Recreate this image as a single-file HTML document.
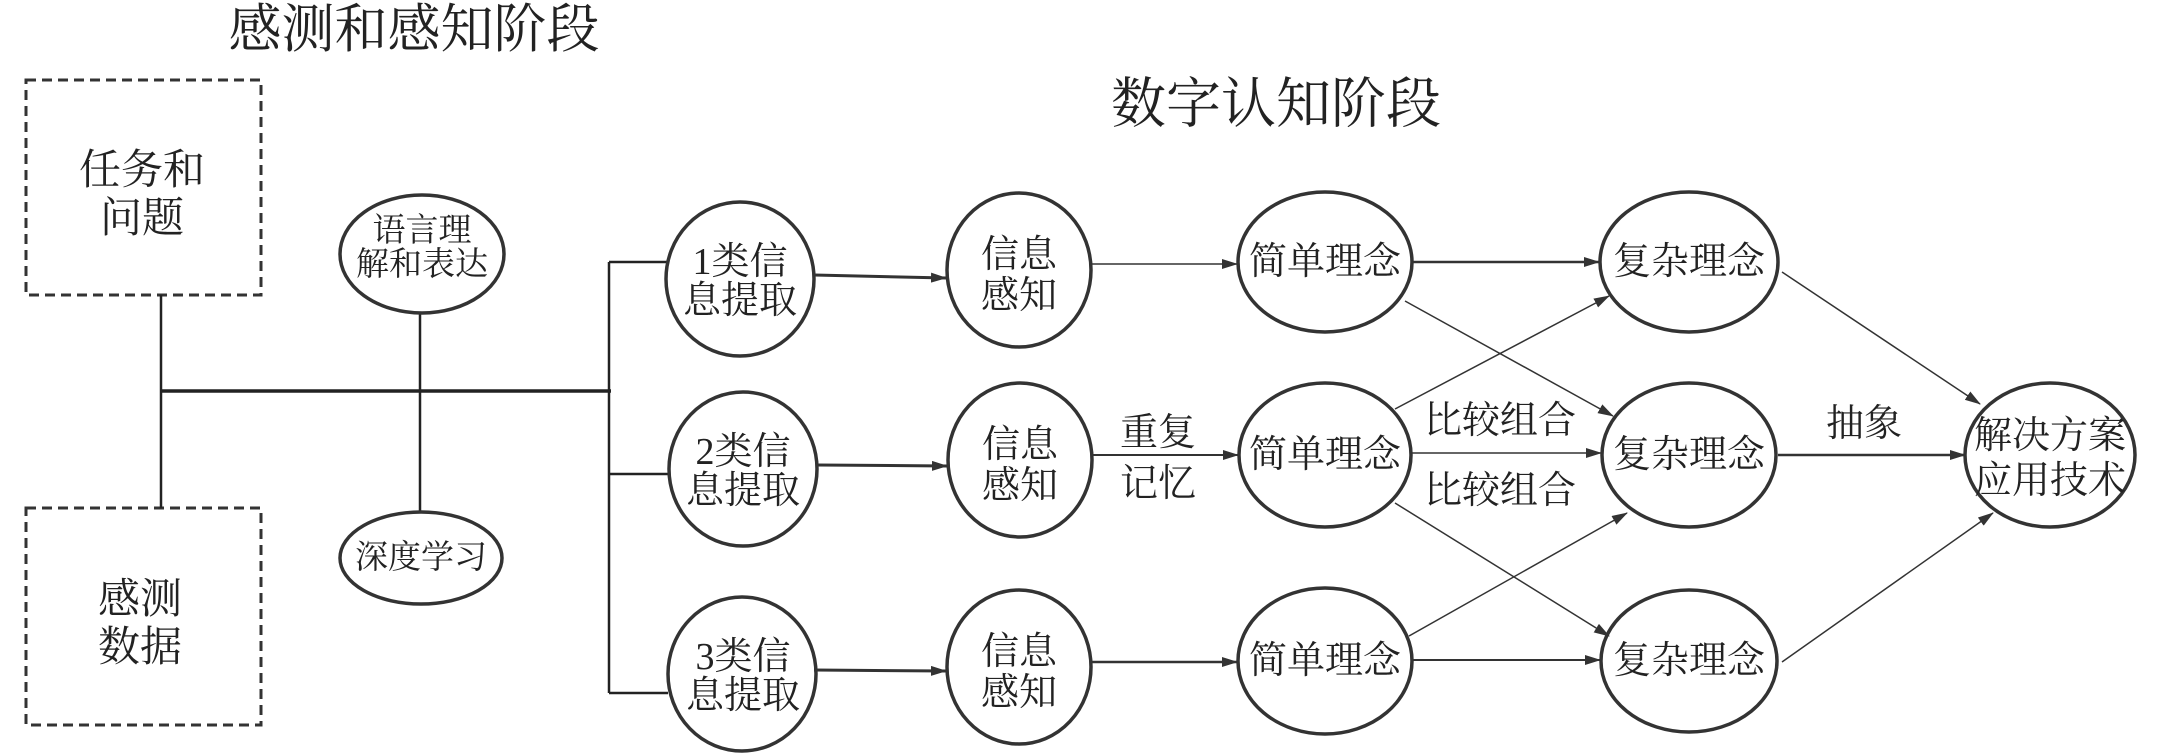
<!DOCTYPE html>
<html><head><meta charset="utf-8"><style>
html,body{margin:0;padding:0;background:#fff;width:2165px;height:755px;overflow:hidden}
svg{display:block}
text{font-family:"Liberation Serif","Noto Serif CJK SC",serif;fill:#222;text-anchor:middle;dominant-baseline:central}
</style></head><body>
<svg width="2165" height="755" viewBox="0 0 2165 755" xmlns="http://www.w3.org/2000/svg">
<defs>
<marker id="a" markerWidth="16" markerHeight="10" refX="15" refY="5" orient="auto" markerUnits="userSpaceOnUse">
<path d="M0,0 L16,5 L0,10 Z" fill="#333"/></marker>
</defs>
<text x="414" y="30" font-size="53">感测和感知阶段</text>
<text x="1276" y="104" font-size="55">数字认知阶段</text>

<g fill="none" stroke="#333" stroke-width="3" stroke-dasharray="10 6">
<rect x="26" y="80" width="235" height="215"/>
<rect x="26" y="508" width="235" height="217"/>
</g>
<text x="142" y="171" font-size="42">任务和</text>
<text x="142" y="219" font-size="42">问题</text>
<text x="140" y="600" font-size="42">感测</text>
<text x="140" y="648" font-size="42">数据</text>

<g stroke="#222" fill="none">
<line x1="161" y1="295" x2="161" y2="508" stroke-width="2.5"/>
<line x1="161" y1="391" x2="611" y2="391" stroke-width="3.5"/>
<line x1="420" y1="313" x2="420" y2="513" stroke-width="2.5"/>
<line x1="609" y1="262" x2="609" y2="693" stroke-width="2.5"/>
<line x1="609" y1="262" x2="668" y2="262" stroke-width="2.5"/>
<line x1="609" y1="474" x2="670" y2="474" stroke-width="2.5"/>
<line x1="609" y1="693" x2="668" y2="693" stroke-width="2.5"/>
</g>

<g fill="none" stroke="#333" stroke-width="3.5">
<ellipse cx="422" cy="254" rx="82" ry="59"/>
<ellipse cx="421" cy="558" rx="81" ry="46"/>
<ellipse cx="740" cy="279" rx="74" ry="77"/>
<ellipse cx="743" cy="469" rx="74" ry="77"/>
<ellipse cx="742" cy="674" rx="74" ry="77"/>
<ellipse cx="1019" cy="270" rx="72" ry="77"/>
<ellipse cx="1020" cy="460" rx="72" ry="77"/>
<ellipse cx="1019" cy="667" rx="72" ry="77"/>
<ellipse cx="1325" cy="262" rx="87" ry="70"/>
<ellipse cx="1325" cy="455" rx="86" ry="72"/>
<ellipse cx="1325" cy="661" rx="87" ry="73"/>
<ellipse cx="1689" cy="262" rx="89" ry="70"/>
<ellipse cx="1689" cy="455" rx="87" ry="72"/>
<ellipse cx="1689" cy="661" rx="88" ry="71"/>
<ellipse cx="2050" cy="455" rx="85" ry="72"/>
</g>

<g font-size="33">
<text x="422" y="231">语言理</text><text x="422" y="265">解和表达</text>
<text x="421" y="558">深度学习</text>
</g>
<g font-size="38">
<text x="740" y="262">1类信</text><text x="740" y="301">息提取</text>
<text x="743" y="452">2类信</text><text x="743" y="491">息提取</text>
<text x="743" y="657">3类信</text><text x="743" y="696">息提取</text>
<text x="1019" y="255">信息</text><text x="1019" y="296">感知</text>
<text x="1020" y="445">信息</text><text x="1020" y="486">感知</text>
<text x="1019" y="652">信息</text><text x="1019" y="693">感知</text>
<text x="1325" y="262">简单理念</text>
<text x="1325" y="455">简单理念</text>
<text x="1325" y="661">简单理念</text>
<text x="1689" y="262">复杂理念</text>
<text x="1689" y="455">复杂理念</text>
<text x="1689" y="661">复杂理念</text>
<text x="2050" y="436">解决方案</text><text x="2050" y="481">应用技术</text>
<text x="1158" y="433">重复</text><text x="1158" y="484">记忆</text>
<text x="1500" y="421">比较组合</text><text x="1500" y="491">比较组合</text>
<text x="1864" y="424">抽象</text>
</g>

<g stroke="#333" fill="none" marker-end="url(#a)">
<line x1="814" y1="275" x2="946" y2="278" stroke-width="3"/>
<line x1="817" y1="465" x2="947" y2="466" stroke-width="3"/>
<line x1="814" y1="670" x2="946" y2="671" stroke-width="3"/>
<line x1="1091" y1="264" x2="1237" y2="264" stroke-width="1.5"/>
<line x1="1092" y1="455" x2="1238" y2="455" stroke-width="2"/>
<line x1="1091" y1="662" x2="1237" y2="662" stroke-width="2.5"/>
<line x1="1412" y1="262" x2="1599" y2="262" stroke-width="2.5"/>
<line x1="1411" y1="453" x2="1601" y2="453" stroke-width="1.5"/>
<line x1="1412" y1="660" x2="1600" y2="660" stroke-width="2"/>
<line x1="1405" y1="301" x2="1613" y2="416" stroke-width="1.5"/>
<line x1="1395" y1="409" x2="1609" y2="296" stroke-width="1.5"/>
<line x1="1395" y1="503" x2="1609" y2="636" stroke-width="1.5"/>
<line x1="1409" y1="636" x2="1627" y2="513" stroke-width="1.5"/>
<line x1="1782" y1="272" x2="1980" y2="404" stroke-width="1.5"/>
<line x1="1778" y1="455" x2="1965" y2="455" stroke-width="2.5"/>
<line x1="1782" y1="662" x2="1993" y2="513" stroke-width="1.5"/>
</g>
</svg>
</body></html>
